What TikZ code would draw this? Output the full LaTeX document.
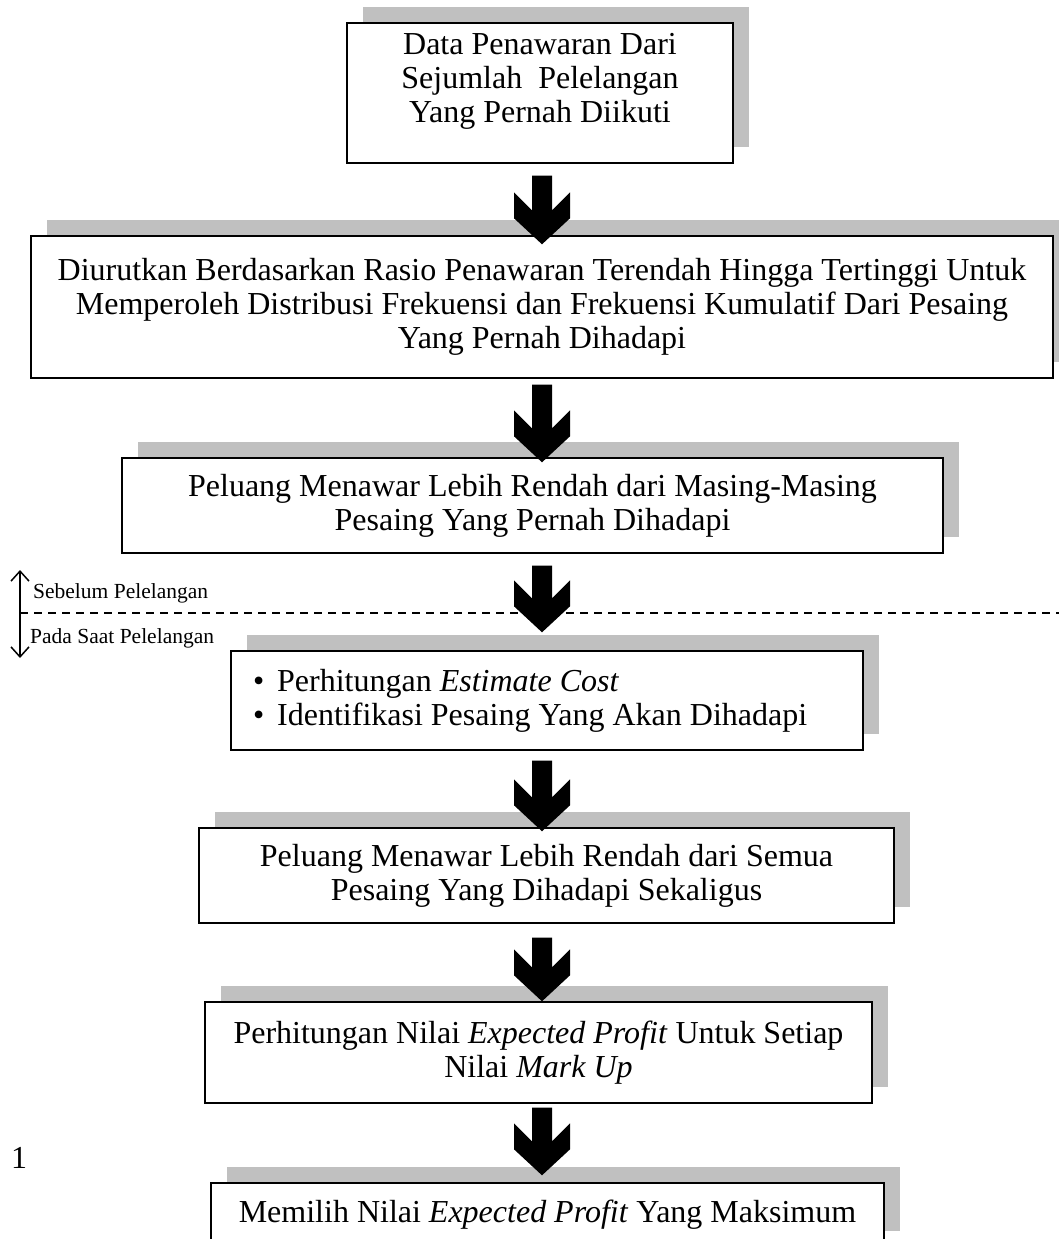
\documentclass[tikz,border=0pt]{standalone}
\usepackage{fontspec}
\setmainfont{Liberation Serif}
\usepackage{tikz}
\usetikzlibrary{shadows,calc,arrows.meta}
\definecolor{shadowgray}{RGB}{192,192,192}
\tikzset{
  flowbox/.style={draw=black, line width=1.4pt, fill=white, align=center,
    inner xsep=4pt, inner ysep=6pt, font=\fontsize{32}{34}\selectfont,
    drop shadow={shadow xshift=16pt, shadow yshift=16pt, fill=shadowgray, opacity=1}},
  sidenote/.style={inner sep=0pt, anchor=base west, font=\fontsize{21.5}{24}\selectfont},
  phasearrow/.style={line width=1.5pt, {Straight Barb[length=10pt,width=18pt]}-{Straight Barb[length=10pt,width=18pt]}},
  cutline/.style={line width=1.4pt, dash pattern=on 8pt off 6pt}
}
\newcommand{\flowarrow}[4]{%
  \coordinate (at) at ($(#1.south -| axis)+(0pt,#3pt)$);
  \coordinate (ab) at ($(#2.north -| axis)+(0pt,#4pt)$);
  \fill [black] ($(at)+(-10pt,0pt)$) -- ++(20pt,0pt) -- ($(ab)+(10pt,34pt)$) -- ++(18pt,18pt) -- ++(0pt,-26pt) -- (ab) -- ++(-28pt,26pt) -- ++(0pt,26pt) -- ++(18pt,-18pt) -- cycle;
}
\begin{document}
\begin{tikzpicture}[x=1pt,y=-1pt]
\useasboundingbox (0,0) rectangle (1059,1239);
\coordinate (axis) at (542,0);
\node [flowbox, minimum width=386pt, minimum height=140pt] (data) at (540,93) {Data Penawaran Dari\\Sejumlah\ \ Pelelangan\\Yang Pernah Diikuti\rule[-30pt]{0pt}{0pt}};
\node [flowbox, minimum width=1022pt, minimum height=142pt] (sort) at (542,307) {Diurutkan Berdasarkan Rasio Penawaran Terendah Hingga Tertinggi Untuk\\Memperoleh Distribusi Frekuensi dan Frekuensi Kumulatif Dari Pesaing\\Yang Pernah Dihadapi};
\node [flowbox, minimum width=821pt, minimum height=95pt] (single) at (532.5,505.5) {Peluang Menawar Lebih Rendah dari Masing-Masing\\Pesaing Yang Pernah Dihadapi};
\node [flowbox, align=flush left, text width=588pt, inner xsep=22pt, minimum height=99pt] (estimate) at (547,700.5) {\textbullet\hspace{13pt}Perhitungan \textit{Estimate Cost}\\\textbullet\hspace{13pt}Identifikasi Pesaing Yang Akan Dihadapi};
\node [flowbox, minimum width=695pt, minimum height=95pt] (allrivals) at (546.5,875.5) {Peluang Menawar Lebih Rendah dari Semua\\Pesaing Yang Dihadapi Sekaligus};
\node [flowbox, minimum width=667pt, minimum height=101pt] (expected) at (538.5,1052.5) {Perhitungan Nilai \textit{Expected Profit} Untuk Setiap\\Nilai \textit{Mark Up}};
\node [flowbox, minimum width=673pt, minimum height=64pt] (maxprofit) at (547.5,1215) {Memilih Nilai \textit{Expected Profit} Yang Maksimum};
\flowarrow{data}{sort}{-12}{-9}
\flowarrow{sort}{single}{-6}{-5}
\flowarrow{single}{estimate}{-12}{18}
\flowarrow{estimate}{allrivals}{-10}{-4}
\flowarrow{allrivals}{expected}{-14}{0}
\flowarrow{expected}{maxprofit}{-4}{7}
\coordinate (phasetop) at (20,570);
\coordinate (phasebottom) at (20,658);
\coordinate (cutleft) at (20,613);
\coordinate (cutright) at (1059,613);
\draw [cutline] (cutleft) -- (cutright);
\draw [phasearrow] (phasetop) -- (phasebottom);
\node [sidenote] (before) at (33,598) {Sebelum Pelelangan};
\node [sidenote] (during) at (30,643) {Pada Saat Pelelangan};
\node [inner sep=0pt, anchor=base west, font=\fontsize{32}{36}\selectfont] (pagenum) at (11,1168) {1};
\end{tikzpicture}
\end{document}
